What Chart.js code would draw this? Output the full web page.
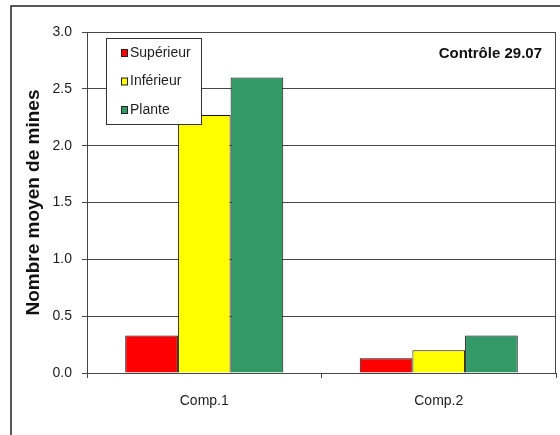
<!DOCTYPE html>
<html lang="fr">
<head>
<meta charset="utf-8">
<title>Contrôle 29.07</title>
<script src="https://cdn.jsdelivr.net/npm/chart.js@4"></script>
<style>
  html, body { margin: 0; padding: 0; background: #ffffff; }
  canvas { display: block; }
</style>
</head>
<body>
<canvas id="minesChart" width="560" height="435"></canvas>
<script>
const categories = ["Comp.1", "Comp.2"];
const seriesLabels = ["Supérieur", "Inférieur", "Plante"];
const superieurValues = [0.33, 0.13];
const inferieurValues = [2.27, 0.2];
const planteValues = [2.6, 0.33];
const seriesColors = ["#ff0000", "#ffff00", "#339966"];

const yMin = 0;
const yMax = 3;
const yStep = 0.5;

const chartTitle = "Contrôle 29.07";
const yTitle = "Nombre moyen de mines";

const fontFamily = "'Liberation Sans', Arial, sans-serif";
const lineColor = "#474747";
const textColor = "#1e1e1e";

// frame around the whole graphic, border round the plot, inline legend and the label
const decorations = {
  id: "decorations",
  beforeDraw(chart) {
    const ctx = chart.ctx;
    ctx.save();
    ctx.fillStyle = "#ffffff";
    ctx.fillRect(0, 0, chart.width, chart.height);
    ctx.strokeStyle = "#222222";
    ctx.lineWidth = 1.5;
    ctx.strokeRect(11, 6, chart.width + 20, chart.height + 20);
    ctx.restore();
  },
  afterDraw(chart) {
    const ctx = chart.ctx;
    const area = chart.chartArea;
    ctx.save();

    ctx.strokeStyle = lineColor;
    ctx.lineWidth = 1;
    ctx.strokeRect(area.left + 0.5, area.top + 0.5, area.right - area.left - 1, area.bottom - area.top);

    // legend box
    const box = { x: 106.5, y: 38.5, w: 95, h: 86 };
    ctx.fillStyle = "#ffffff";
    ctx.fillRect(box.x, box.y, box.w, box.h);
    ctx.strokeStyle = "#333333";
    ctx.strokeRect(box.x, box.y, box.w, box.h);

    ctx.font = "14px " + fontFamily;
    ctx.textBaseline = "middle";
    ctx.textAlign = "left";
    chart.data.datasets.forEach((ds, i) => {
      const cy = 53 + i * 28.5;
      ctx.fillStyle = ds.backgroundColor;
      ctx.fillRect(121, cy - 3.5, 6, 7);
      ctx.strokeStyle = "#222222";
      ctx.strokeRect(121.5, cy - 3.5, 6, 7);
      ctx.fillStyle = textColor;
      ctx.fillText(ds.label, 130, cy);
    });

    ctx.font = "bold 15px " + fontFamily;
    ctx.textAlign = "right";
    ctx.fillStyle = "#111111";
    ctx.fillText(chartTitle, 542, 54);

    ctx.restore();
  }
};

new Chart(document.getElementById("minesChart"), {
  type: "bar",
  data: {
    labels: categories,
    datasets: [
      { label: seriesLabels[0], data: superieurValues, backgroundColor: seriesColors[0] },
      { label: seriesLabels[1], data: inferieurValues, backgroundColor: seriesColors[1] },
      { label: seriesLabels[2], data: planteValues, backgroundColor: seriesColors[2] }
    ]
  },
  options: {
    responsive: false,
    animation: false,
    layout: {
      padding: { top: 32, right: 4, bottom: 0, left: 0 }
    },
    datasets: {
      bar: {
        barPercentage: 1,
        categoryPercentage: 0.674,
        borderColor: "#111111",
        borderWidth: 1
      }
    },
    plugins: {
      legend: { display: false },
      tooltip: { enabled: false }
    },
    scales: {
      x: {
        afterFit(scale) {
          scale.height = 62;
        },
        grid: {
          offset: true,
          drawOnChartArea: false,
          drawTicks: true,
          tickLength: 5,
          color: lineColor
        },
        border: { color: lineColor, width: 1 },
        ticks: {
          padding: 15,
          color: textColor,
          font: { family: fontFamily, size: 14 }
        }
      },
      y: {
        min: yMin,
        max: yMax,
        afterFit(scale) {
          scale.width = 87;
        },
        grid: {
          color: lineColor,
          drawTicks: true,
          tickLength: 5
        },
        border: { color: lineColor, width: 1 },
        title: {
          display: true,
          text: yTitle,
          color: "#111111",
          padding: { top: 22, bottom: 0 },
          font: { family: fontFamily, size: 19, weight: "bold" }
        },
        ticks: {
          stepSize: yStep,
          padding: 10,
          color: textColor,
          font: { family: fontFamily, size: 14 },
          callback: (value) => Number(value).toFixed(1)
        }
      }
    }
  },
  plugins: [decorations]
});
</script>
</body>
</html>
